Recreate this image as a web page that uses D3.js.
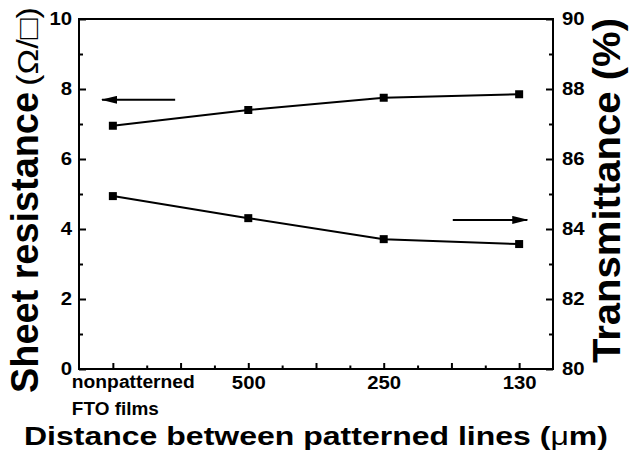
<!DOCTYPE html>
<html><head><meta charset="utf-8">
<script src="https://cdn.jsdelivr.net/npm/d3@7"></script>
<style>
body{margin:0;background:#fff}
svg{display:block}
text{font-family:"Liberation Sans",Arial,Helvetica,sans-serif;font-weight:bold;fill:#000}
</style>
</head><body>
<svg id="c" width="629" height="455"></svg>
<script>
// ---- data ----
const categories = ["nonpatterned FTO films", "500", "250", "130"];
const sheetResistance = [6.95, 7.40, 7.75, 7.85];
const transmittance = [84.94, 84.31, 83.71, 83.57];
const leftTicks = [0, 2, 4, 6, 8, 10];
const leftMinorTicks = [1, 3, 5, 7, 9];
const rightTicks = [80, 82, 84, 86, 88, 90];
const rightMinorTicks = [81, 83, 85, 87, 89];
const xMajorTicks = [0, 0.5, 1, 1.5, 2, 2.5, 3];
const xMinorTicks = [0.25, 0.75, 1.25, 1.75, 2.25, 2.75];
const leftArrow = {from: [0.46, 7.69], to: [-0.08, 7.69]};     // points to left axis
const rightArrow = {from: [2.51, 84.26], to: [3.06, 84.26]};   // points to right axis

// ---- layout ----
const svg = d3.select("#c");
const L = 79, R = 553, T = 19, B = 369;
const x = d3.scaleLinear().domain([-0.25, 3.25]).range([L, R]);
const yL = d3.scaleLinear().domain([0, 10]).range([B, T]);
const yR = d3.scaleLinear().domain([80, 90]).range([B, T]);
const SX = 1.13;

svg.append("defs").append("marker")
  .attr("id", "ah").attr("viewBox", "0 0 16 8").attr("refX", 15).attr("refY", 4)
  .attr("markerWidth", 16).attr("markerHeight", 8).attr("markerUnits", "userSpaceOnUse")
  .attr("orient", "auto")
  .append("path").attr("d", "M0,0 L16,4 L0,8 Z").attr("fill", "#000");

function styleAxis(g) {
  g.select(".domain").remove();
  g.selectAll(".tick line").attr("stroke", "#000").attr("stroke-width", 2);
  g.selectAll(".tick text").attr("font-size", 18).attr("fill", "#000")
    .attr("font-family", '"Liberation Sans",Arial,sans-serif').attr("font-weight", "bold")
    .attr("transform", `scale(${SX},1)`);
}

// left axis
svg.append("g").attr("transform", `translate(${L},0)`)
  .call(d3.axisLeft(yL).tickValues(leftTicks).tickSize(-7).tickPadding(6.2).tickFormat(d3.format("d")))
  .call(styleAxis);
svg.append("g").attr("transform", `translate(${L},0)`)
  .call(d3.axisLeft(yL).tickValues(leftMinorTicks).tickSize(-4).tickFormat(""))
  .call(styleAxis);

// right axis
svg.append("g").attr("transform", `translate(${R},0)`)
  .call(d3.axisRight(yR).tickValues(rightTicks).tickSize(-7).tickPadding(8).tickFormat(d3.format("d")))
  .call(styleAxis);
svg.append("g").attr("transform", `translate(${R},0)`)
  .call(d3.axisRight(yR).tickValues(rightMinorTicks).tickSize(-4).tickFormat(""))
  .call(styleAxis);

// bottom axis
svg.append("g").attr("transform", `translate(0,${B})`)
  .call(d3.axisBottom(x).tickValues(xMajorTicks).tickSize(-6).tickPadding(7)
    .tickFormat(d => (Number.isInteger(d) && d > 0) ? categories[d] : ""))
  .call(styleAxis);
svg.append("g").attr("transform", `translate(0,${B})`)
  .call(d3.axisBottom(x).tickValues(xMinorTicks).tickSize(-3.5).tickFormat(""))
  .call(styleAxis);

// first category label (two lines, left-aligned)
const firstParts = categories[0].split(" ");
svg.append("text").attr("font-size", 18).attr("x", x(0) - 41).attr("y", 388)
  .attr("textLength", 123).attr("lengthAdjust", "spacingAndGlyphs").text(firstParts[0]);
svg.append("text").attr("font-size", 18).attr("x", x(0) - 41).attr("y", 415)
  .attr("textLength", 87).attr("lengthAdjust", "spacingAndGlyphs")
  .text(firstParts.slice(1).join(" "));

// frame
svg.append("rect").attr("x", L).attr("y", T).attr("width", R - L).attr("height", B - T)
  .attr("fill", "none").attr("stroke", "#000").attr("stroke-width", 2);

// series
const idx = d3.range(categories.length);
const lineL = d3.line().x(i => x(i)).y(i => yL(sheetResistance[i]));
const lineR = d3.line().x(i => x(i)).y(i => yR(transmittance[i]));
svg.append("path").attr("d", lineL(idx)).attr("fill", "none").attr("stroke", "#000").attr("stroke-width", 2);
svg.append("path").attr("d", lineR(idx)).attr("fill", "none").attr("stroke", "#000").attr("stroke-width", 2);
const S = 8;
svg.append("g").selectAll("rect").data(idx).join("rect")
  .attr("x", i => x(i) - S / 2).attr("y", i => yL(sheetResistance[i]) - S / 2)
  .attr("width", S).attr("height", S).attr("fill", "#000");
svg.append("g").selectAll("rect").data(idx).join("rect")
  .attr("x", i => x(i) - S / 2).attr("y", i => yR(transmittance[i]) - S / 2)
  .attr("width", S).attr("height", S).attr("fill", "#000");

// arrows
svg.append("line")
  .attr("x1", x(leftArrow.from[0])).attr("y1", yL(leftArrow.from[1]))
  .attr("x2", x(leftArrow.to[0])).attr("y2", yL(leftArrow.to[1]))
  .attr("stroke", "#000").attr("stroke-width", 2).attr("marker-end", "url(#ah)");
svg.append("line")
  .attr("x1", x(rightArrow.from[0])).attr("y1", yR(rightArrow.from[1]))
  .attr("x2", x(rightArrow.to[0])).attr("y2", yR(rightArrow.to[1]))
  .attr("stroke", "#000").attr("stroke-width", 2).attr("marker-end", "url(#ah)");

// axis titles
svg.append("text").attr("transform", "translate(38,393) rotate(-90)")
  .attr("font-size", 39).attr("textLength", 301).attr("lengthAdjust", "spacingAndGlyphs")
  .text("Sheet resistance");
svg.append("text").attr("transform", "translate(38,86) rotate(-90)")
  .attr("font-size", 30).attr("textLength", 79)
  .attr("lengthAdjust", "spacingAndGlyphs").style("font-weight", "normal")
  .text("(Ω/□)");
svg.append("text").attr("transform", "translate(620,363) rotate(-90)")
  .attr("font-size", 38).attr("textLength", 345).attr("lengthAdjust", "spacingAndGlyphs")
  .text("Transmittance (%)");
const xt = svg.append("text").attr("x", 24).attr("y", 445).attr("font-size", 26)
  .attr("textLength", 584).attr("lengthAdjust", "spacingAndGlyphs");
xt.append("tspan").text("Distance between patterned lines (");
xt.append("tspan").style("font-weight", "normal").text("μ");
xt.append("tspan").text("m)");
</script>
</body></html>
